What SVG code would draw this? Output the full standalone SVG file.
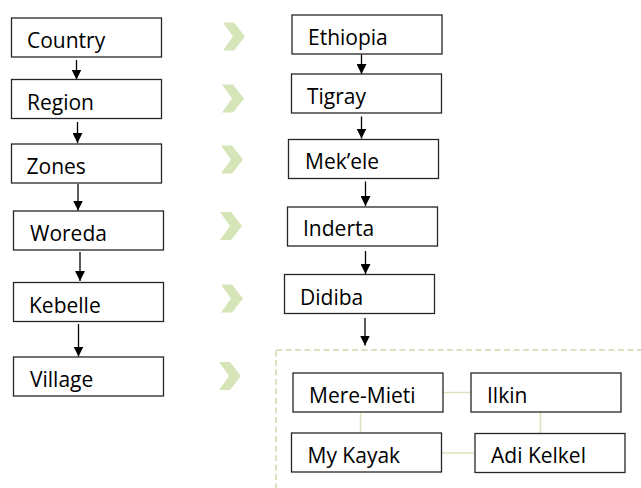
<svg xmlns="http://www.w3.org/2000/svg" width="641" height="488" viewBox="0 0 641 488">
<style>
.box{fill:#fff;stroke:#262626;stroke-width:1.3}
.t{font-family:"Open Sans","Liberation Sans",sans-serif;font-size:21px;fill:#000}
.arr{stroke:#000;stroke-width:1.3;fill:none;marker-end:url(#ah)}
.lnk{stroke:#d7e4bd;stroke-width:1.5;fill:none}
.chev{fill:#d5e5b8}
</style>
<defs>
<marker id="ah" viewBox="0 0 10 10" markerWidth="10" markerHeight="10" refX="10" refY="5" orient="auto" markerUnits="userSpaceOnUse">
<path d="M0,0 L10,5 L0,10 z" fill="#000"/>
</marker>
<path id="chv" d="M0,0 H11 L22,14 L11,28 H0 L10,14 z"/>
</defs>
<rect width="641" height="488" fill="#fff"/>
<g id="chevrons" class="chev">
<use href="#chv" x="223" y="22.5"/>
<use href="#chv" x="222" y="84.5"/>
<use href="#chv" x="221" y="145.5"/>
<use href="#chv" x="220" y="212"/>
<use href="#chv" x="221" y="284.5"/>
<use href="#chv" x="219" y="362"/>
</g>
<g id="group-box">
<rect x="276" y="350" width="380" height="160" fill="none" stroke="#d7e4bd" stroke-width="2" stroke-dasharray="6,3.5"/>
</g>
<g id="connectors">
<line class="arr" x1="76.5" y1="60" x2="76.5" y2="79.5"/>
<line class="arr" x1="77.5" y1="122" x2="77.5" y2="143"/>
<line class="arr" x1="78" y1="184" x2="78" y2="210.5"/>
<line class="arr" x1="80" y1="252" x2="80" y2="281"/>
<line class="arr" x1="78.5" y1="324" x2="78.5" y2="356.5"/>
<line class="arr" x1="361.5" y1="54.5" x2="361.5" y2="74"/>
<line class="arr" x1="361.5" y1="116.5" x2="361.5" y2="138.5"/>
<line class="arr" x1="365.5" y1="181.5" x2="365.5" y2="206"/>
<line class="arr" x1="365.5" y1="251" x2="365.5" y2="274"/>
<line class="arr" x1="365" y1="318" x2="365" y2="345.5"/>
<line class="lnk" x1="443" y1="392.5" x2="471" y2="392.5"/>
<line class="lnk" x1="360.5" y1="412" x2="360.5" y2="433"/>
<line class="lnk" x1="540.5" y1="412" x2="540.5" y2="433.5"/>
<line class="lnk" x1="441" y1="453" x2="475" y2="453"/>
</g>
<g id="country"><rect class="box" x="11.5" y="18" width="150" height="39"/><text class="t" x="27" y="48">Country</text></g>
<g id="region"><rect class="box" x="11.5" y="79.5" width="150" height="39"/><text class="t" x="27" y="110">Region</text></g>
<g id="zones"><rect class="box" x="11.5" y="144" width="150" height="39"/><text class="t" x="26.5" y="174">Zones</text></g>
<g id="woreda"><rect class="box" x="13.5" y="211" width="150" height="39"/><text class="t" x="30" y="241">Woreda</text></g>
<g id="kebelle"><rect class="box" x="13.5" y="282.5" width="150" height="39"/><text class="t" x="29" y="312.5">Kebelle</text></g>
<g id="village"><rect class="box" x="13.5" y="357" width="150" height="39"/><text class="t" x="30" y="387">Village</text></g>
<g id="ethiopia"><rect class="box" x="292" y="15" width="150" height="39"/><text class="t" x="308" y="45">Ethiopia</text></g>
<g id="tigray"><rect class="box" x="291.5" y="74" width="150" height="39"/><text class="t" x="307" y="103.5">Tigray</text></g>
<g id="mekele"><rect class="box" x="288.5" y="139.5" width="150" height="39"/><text class="t" x="305" y="168.5">Mek’ele</text></g>
<g id="inderta"><rect class="box" x="287.5" y="207" width="150" height="39"/><text class="t" x="303" y="236">Inderta</text></g>
<g id="didiba"><rect class="box" x="284.5" y="274.5" width="150" height="39"/><text class="t" x="300" y="304.5">Didiba</text></g>
<g id="mere-mieti"><rect class="box" x="293" y="373" width="150" height="39"/><text class="t" x="309" y="403">Mere-Mieti</text></g>
<g id="ilkin"><rect class="box" x="471" y="373" width="150" height="39"/><text class="t" x="487" y="403">Ilkin</text></g>
<g id="my-kayak"><rect class="box" x="291.5" y="433" width="150" height="39"/><text class="t" x="307.5" y="462.5">My Kayak</text></g>
<g id="adi-kelkel"><rect class="box" x="475" y="433.5" width="150" height="39"/><text class="t" x="491" y="463">Adi Kelkel</text></g>
</svg>
